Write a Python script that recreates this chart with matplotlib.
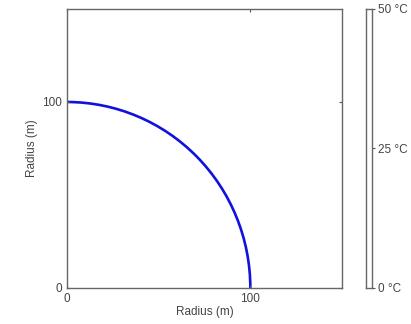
import matplotlib.pyplot as plt
from matplotlib.patches import Arc

radius = 100
axis_max = 150
ticks = [0, 100]
cbar_ticks = [0, 25, 50]
cbar_labels = ['0 °C', '25 °C', '50 °C']

plt.rcParams['font.family'] = ['Liberation Sans', 'DejaVu Sans']
plt.rcParams['font.size'] = 8.5

fig = plt.figure(figsize=(4.11, 3.24), dpi=100)
ax = fig.add_axes([67/411, 1 - 288/324, 275/411, 279/324])
ax.add_patch(Arc((0, 0), 2*radius, 2*radius, theta1=0, theta2=90,
                 color='#1010e0', lw=1.9))
ax.set_xlim(0, axis_max)
ax.set_ylim(0, axis_max)
ax.set_xticks(ticks)
ax.set_yticks(ticks)
ax.tick_params(direction='in', length=2.5, width=0.8, color='#555555',
               labelcolor='#444444', top=True, right=True)
for s in ax.spines.values():
    s.set_color('#666666')
    s.set_linewidth(1.0)
ax.set_xlabel('Radius (m)', color='#444444', labelpad=1)
ax.set_ylabel('Radius (m)', color='#444444', labelpad=3)

cax = fig.add_axes([366/411, 1 - 288/324, 6/411, 279/324])
cax.set_xlim(0, 1)
cax.set_ylim(0, 50)
cax.set_xticks([])
cax.set_yticks(cbar_ticks)
cax.set_yticklabels(cbar_labels)
cax.yaxis.tick_right()
cax.tick_params(direction='out', length=2, width=0.8, color='#555555',
                labelcolor='#444444', pad=2)
for s in cax.spines.values():
    s.set_color('#666666')
    s.set_linewidth(1.0)

fig.savefig('out.png')
